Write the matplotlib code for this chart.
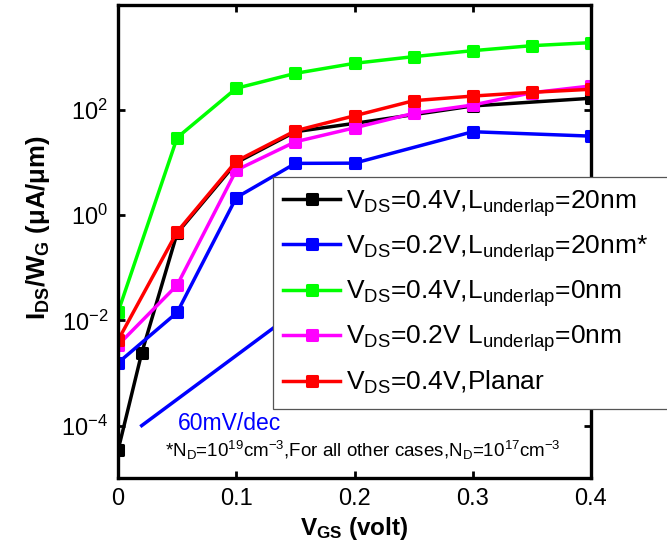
import matplotlib
matplotlib.use('Agg')
import matplotlib.pyplot as plt
from matplotlib.markers import MarkerStyle
from matplotlib.patches import Rectangle

plt.rcParams['font.family'] = ['Liberation Sans', 'DejaVu Sans']
plt.rcParams['mathtext.fontset'] = 'custom'
plt.rcParams['mathtext.rm'] = 'Liberation Sans'
plt.rcParams['mathtext.it'] = 'Liberation Sans:italic'
plt.rcParams['mathtext.bf'] = 'Liberation Sans:bold'
plt.rcParams['mathtext.default'] = 'regular'

# data (I_DS/W_G in uA/um)
vgs_black = [0, 0.02, 0.05, 0.1, 0.15, 0.2, 0.3, 0.4]
ids_black = [3.4e-5, 0.0024, 0.46, 10, 38.8, 56, 120, 168]

vgs_blue = [0, 0.05, 0.1, 0.15, 0.2, 0.3, 0.4]
ids_blue = [0.00156, 0.0142, 2.17, 9.7, 9.8, 38.8, 32]

vgs_all = [0, 0.05, 0.1, 0.15, 0.2, 0.25, 0.3, 0.35, 0.4]
ids_green = [0.0144, 30, 260, 500, 776, 1040, 1350, 1680, 1920]
ids_magenta = [0.0034, 0.047, 7.2, 25, 46, 87, 125, 214, 288]
ids_red = [0.0042, 0.485, 10.7, 40.5, 78, 151, 185, 218, 249]

labels = [r'V$_{DS}$=0.4V,L$_{underlap}$=20nm',
          r'V$_{DS}$=0.2V,L$_{underlap}$=20nm*',
          r'V$_{DS}$=0.4V,L$_{underlap}$=0nm',
          r'V$_{DS}$=0.2V L$_{underlap}$=0nm',
          r'V$_{DS}$=0.4V,Planar']

# 60 mV/dec reference line
ref_x = [0.02, 0.2]
ref_y = [1.0e-4, 0.1]

fig = plt.figure(figsize=(6.67, 5.49), dpi=100)
ax = fig.add_axes([0.177, 0.129, 0.709, 0.862])

mk = MarkerStyle('s', joinstyle='round')
style = dict(lw=2.5, marker=mk, markersize=7.5, markeredgewidth=2.2)

ax.plot(ref_x, ref_y, color='#0000ff', lw=2.5)
lines = []
lines += ax.plot(vgs_black, ids_black, color='k', **style)
lines += ax.plot(vgs_blue, ids_blue, color='#0000ff', **style)
lines += ax.plot(vgs_all, ids_green, color='#00ff00', **style)
lines += ax.plot(vgs_all, ids_magenta, color='#ff00ff', **style)
lines += ax.plot(vgs_all, ids_red, color='#ff0000', **style)

ax.set_yscale('log')
ax.set_xlim(0, 0.4)
ax.set_ylim(1e-5, 1e4)
ax.set_yticks([1e-4, 1e-2, 1e0, 1e2])
ax.minorticks_off()
ax.set_xticks([0, 0.1, 0.2, 0.3, 0.4])
ax.set_xticklabels(['0', '0.1', '0.2', '0.3', '0.4'])
ax.tick_params(direction='in', top=True, right=True, length=5, width=2,
               labelsize=17, pad=7)
for s in ax.spines.values():
    s.set_linewidth(2.4)

ax.set_xlabel(r'$\mathbf{V_{GS}}$ (volt)', fontsize=17.5, fontweight='bold', labelpad=4)
ax.set_ylabel(r'$\mathbf{I_{DS}/W_G}$ ($\mathbf{\mu}$A/$\mathbf{\mu}$m)', fontsize=18.5,
              fontweight='bold')
ax.yaxis.set_label_coords(-0.14, 0.53)

ax.text(0.051, 1.1e-4, '60mV/dec', color='#0000ff', fontsize=16.5, va='center')
ax.text(0.04, 3.4e-5, r'*N$_D$=10$^{19}$cm$^{-3}$,For all other cases,N$_D$=10$^{17}$cm$^{-3}$',
        fontsize=13.5, va='center')

# legend box, running past the right edge of the figure
fig.patches.append(Rectangle((273 / 667, 1 - 409 / 549), 0.7, (409 - 177) / 549,
                             transform=fig.transFigure, facecolor='white',
                             edgecolor='#555555', lw=0.9, zorder=2))
fig.legend(lines, labels, loc='upper left', bbox_to_anchor=(0.413, 0.672),
           frameon=False, fontsize=19, handlelength=2.15, handletextpad=0.23,
           labelspacing=0.55, borderaxespad=0, borderpad=0.3)

fig.savefig('out.png', dpi=100)
